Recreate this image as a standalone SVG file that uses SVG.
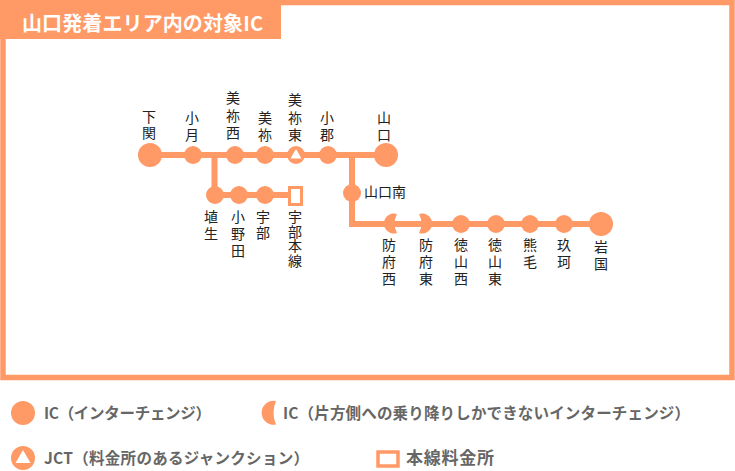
<svg xmlns="http://www.w3.org/2000/svg" width="735" height="471" viewBox="0 0 735 471">
<style>
text{font-family:"Noto Sans CJK JP","Liberation Sans",sans-serif}
.l{font-size:14px;fill:#222;writing-mode:vertical-rl;letter-spacing:3px}
.h{font-size:14px;fill:#222}
.k{font-size:15.5px;font-weight:700;fill:#666}
.t{font-size:20px;font-weight:700;fill:#fff}
.o{fill:#ff9966}
.ln{fill:none;stroke:#ff9966;stroke-width:6}
</style>
<rect width="735" height="471" fill="#fff"/>
<g id="frame">
<rect x="3" y="2.500" width="729" height="375" fill="#fff" stroke="#ff9966" stroke-width="5.500"/>
<rect x="0" y="0" width="281" height="39" class="o"/>
<text class="t" x="22" y="31" textLength="241" lengthAdjust="spacing">山口発着エリア内の対象IC</text>
</g>
<g id="connectors">
<path class="ln" d="M150 155H386"/>
<path class="ln" d="M214.500 155V195H296"/>
<path class="ln" d="M352 155V224H600"/>
</g>
<g id="n-shimonoseki"><circle cx="150" cy="155" r="12" class="o"/><text class="l" x="149" y="110" style="letter-spacing:2px">下関</text></g>
<g id="n-ozuki"><circle cx="193" cy="155" r="9" class="o"/><text class="l" x="192" y="111">小月</text></g>
<g id="n-minesei"><circle cx="235" cy="155" r="9" class="o"/><text class="l" x="233" y="91" style="letter-spacing:3.500px">美祢西</text></g>
<g id="n-mine"><circle cx="265" cy="155" r="9" class="o"/><text class="l" x="265" y="111">美祢</text></g>
<g id="n-minehigashi"><circle cx="296" cy="155" r="9" class="o"/><path d="M296 149l5.500 9.500h-11z" fill="#fff"/><text class="l" x="295" y="93" style="letter-spacing:3.500px">美祢東</text></g>
<g id="n-ogori"><circle cx="328" cy="155" r="9" class="o"/><text class="l" x="327" y="111">小郡</text></g>
<g id="n-yamaguchi"><circle cx="386" cy="155" r="12" class="o"/><text class="l" x="384" y="111">山口</text></g>
<g id="n-hanyu"><circle cx="215" cy="195" r="9" class="o"/><text class="l" x="211" y="210">埴生</text></g>
<g id="n-onoda"><circle cx="239" cy="195" r="9" class="o"/><text class="l" x="238" y="210">小野田</text></g>
<g id="n-ube"><circle cx="265" cy="195" r="9" class="o"/><text class="l" x="263" y="210" style="letter-spacing:2px">宇部</text></g>
<g id="n-ubehonsen"><rect x="289.500" y="187.500" width="12" height="17" fill="#fff" stroke="#ff9966" stroke-width="3"/><text class="l" x="295" y="210" style="letter-spacing:.5px">宇部本線</text></g>
<g id="n-yamaguchiminami"><circle cx="352" cy="193" r="9" class="o"/><text class="h" x="364" y="197">山口南</text></g>
<g id="n-hofusei"><path d="M397 214A10 10 0 1 0 397 233Q392 224 397 214Z" class="o"/><text class="l" x="389" y="238">防府西</text></g>
<g id="n-hofuhigashi"><path d="M419 214A10 10 0 1 1 419 233Q424 224 419 214Z" class="o"/><text class="l" x="426" y="238">防府東</text></g>
<g id="n-tokuyamasei"><circle cx="461" cy="224" r="9" class="o"/><text class="l" x="461" y="238">徳山西</text></g>
<g id="n-tokuyamahigashi"><circle cx="496" cy="224" r="9" class="o"/><text class="l" x="495" y="238">徳山東</text></g>
<g id="n-kumage"><circle cx="530" cy="224" r="9" class="o"/><text class="l" x="530" y="238">熊毛</text></g>
<g id="n-kuga"><circle cx="564" cy="224" r="9" class="o"/><text class="l" x="564" y="238">玖珂</text></g>
<g id="n-iwakuni"><circle cx="601" cy="224" r="12" class="o"/><text class="l" x="601" y="240">岩国</text></g>
<g id="legend">
<circle cx="23" cy="413" r="12" class="o"/>
<text class="k" x="44" y="419" textLength="167" lengthAdjust="spacing">IC（インターチェンジ）</text>
<path d="M276 401A12 12 0 1 0 276 424.500Q271 413 276 401Z" class="o"/>
<text class="k" x="283" y="419" textLength="407" lengthAdjust="spacing">IC（片方側への乗り降りしかできないインターチェンジ）</text>
<circle cx="23" cy="458" r="12" class="o"/><path d="M23 450l7.500 13h-15z" fill="#fff"/>
<text class="k" x="44" y="464" textLength="265" lengthAdjust="spacing">JCT（料金所のあるジャンクション）</text>
<rect x="378" y="452" width="20" height="14" fill="#fff" stroke="#ff9966" stroke-width="3.500"/>
<text class="k" x="406" y="464" textLength="88" lengthAdjust="spacing" style="font-size:17px">本線料金所</text>
</g>
</svg>
